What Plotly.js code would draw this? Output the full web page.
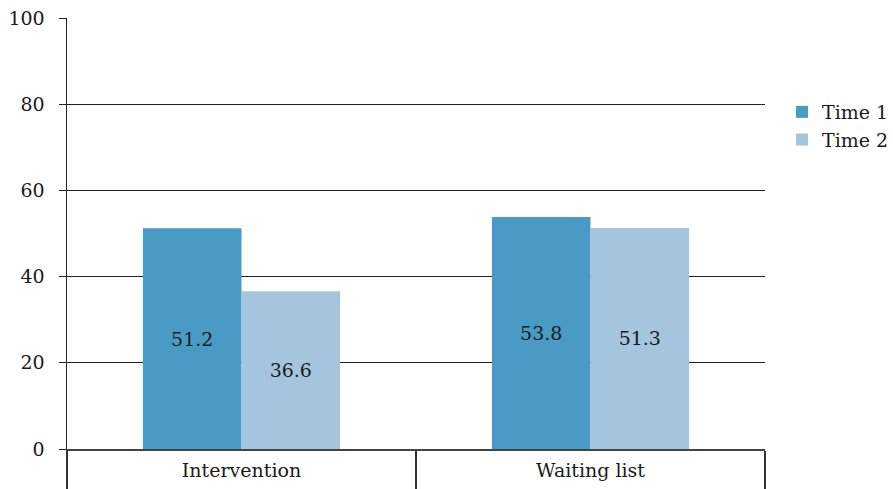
<!DOCTYPE html>
<html>
<head>
<meta charset="utf-8">
<script src="https://cdn.plot.ly/plotly-3.0.1.min.js"></script>
<style>html,body{margin:0;padding:0;background:#fff;}</style>
</head>
<body>
<div id="chart" style="width:893px;height:489px;"></div>
<script>
var categories = ["Intervention", "Waiting list"];
var seriesNames = ["Time 1", "Time 2"];
var time1 = [51.2, 53.8];
var time2 = [36.6, 51.3];
var yTicks = [0, 20, 40, 60, 80, 100];

var fontFam = "DejaVu Serif";
var fs = 19;

function fmt(v){ return v.toFixed(1); }

var traces = [
  {
    type: "bar", name: seriesNames[0], x: categories, y: time1,
    text: time1.map(fmt), textposition: "inside", insidetextanchor: "middle",
    textfont: {family: fontFam, size: fs, color: "#1a1a1a"},
    marker: {color: "#4A9AC6"}, hoverinfo: "none"
  },
  {
    type: "bar", name: seriesNames[1], x: categories, y: time2,
    text: time2.map(fmt), textposition: "inside", insidetextanchor: "middle",
    textfont: {family: fontFam, size: fs, color: "#1a1a1a"},
    marker: {color: "#A5C4DD"}, hoverinfo: "none"
  }
];

var layout = {
  width: 893, height: 489,
  margin: {l: 67, r: 128, t: 18, b: 40, autoexpand: false},
  paper_bgcolor: "#fff", plot_bgcolor: "#fff",
  font: {family: fontFam, size: fs, color: "#1a1a1a"},
  barmode: "group",
  bargap: 0.435, bargroupgap: 0,
  showlegend: true,
  legend: {x: 1.0244, xanchor: "left", y: 0.826, yanchor: "top",
           font: {family: fontFam, size: fs, color: "#1a1a1a"},
           tracegroupgap: 0, bgcolor: "rgba(0,0,0,0)"},
  xaxis: {
    type: "category", tickson: "boundaries",
    ticks: "outside", ticklen: 39, tickwidth: 1.5, tickcolor: "#333",
    ticklabelstandoff: 3,
    showline: true, linecolor: "#444", linewidth: 2,
    showgrid: false, zeroline: false, automargin: false,
    tickfont: {family: fontFam, size: fs, color: "#1a1a1a"}
  },
  yaxis: {
    range: [0, 100], tickvals: yTicks, ticktext: yTicks.map(String),
    ticks: "outside", ticklen: 7, tickcolor: "#222", tickwidth: 1,
    showgrid: true, gridcolor: "#222", gridwidth: 1,
    showline: true, linecolor: "#222", linewidth: 1.5,
    zeroline: false, ticklabelstandoff: 10, automargin: false,
    tickfont: {family: fontFam, size: fs, color: "#1a1a1a"}
  }
};

Plotly.newPlot("chart", traces, layout, {displayModeBar: false, staticPlot: true});
</script>
</body>
</html>
